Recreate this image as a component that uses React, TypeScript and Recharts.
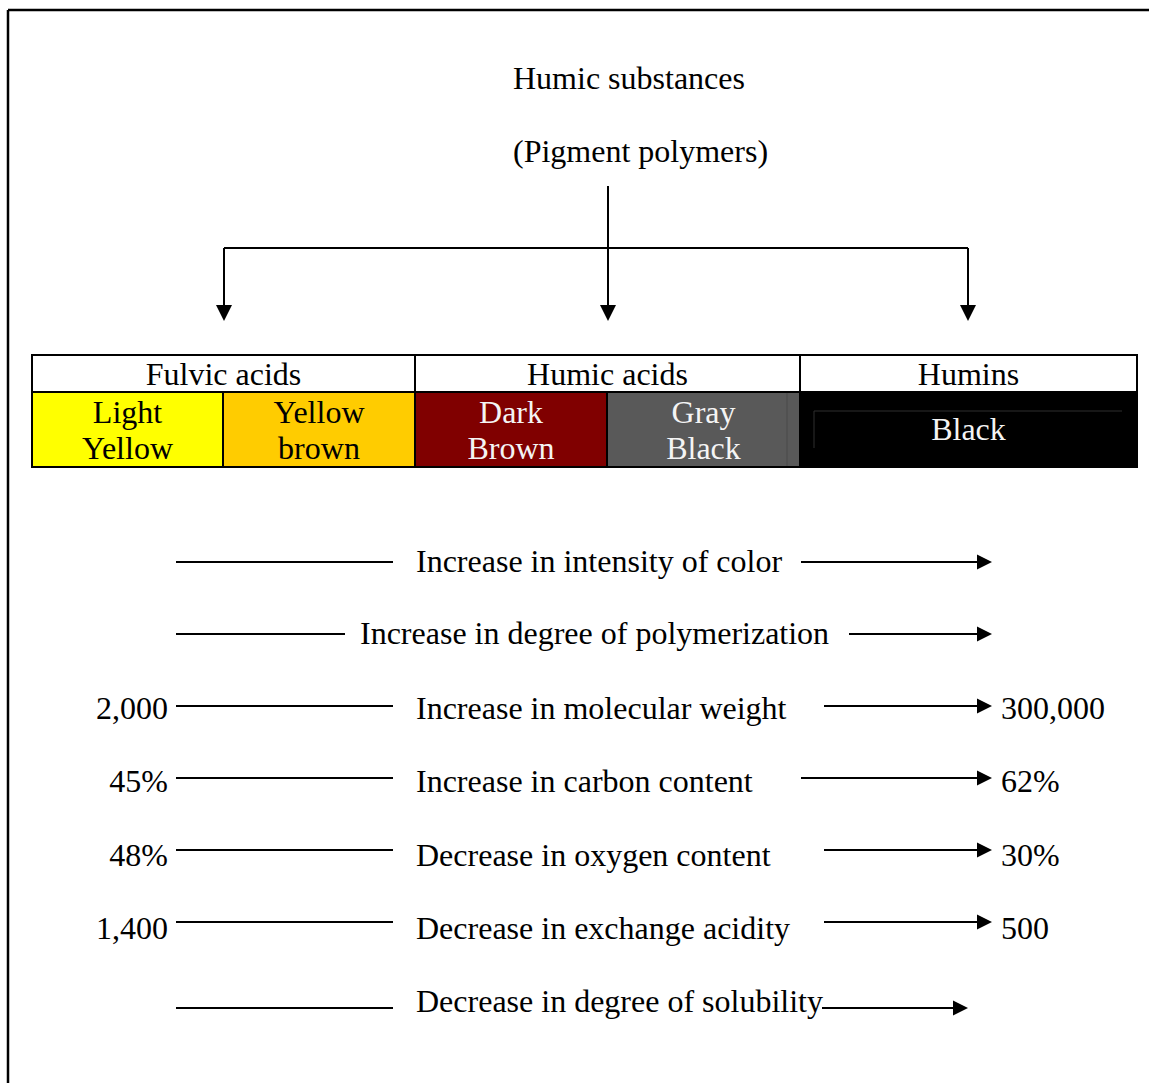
import React from 'react';
import { ComposedChart, XAxis, YAxis, ReferenceLine, ReferenceArea, ReferenceDot, Scatter } from 'recharts';

const W = 1149;
const H = 1083;
const FONT = '"Liberation Serif", "Times New Roman", serif';
const FS = 32;

// --- data ---
const titleLines = ['Humic substances', '(Pigment polymers)'];
const groupNames = ['Fulvic acids', 'Humic acids', 'Humins'];
const colorClasses = ['Light\nYellow', 'Yellow\nbrown', 'Dark\nBrown', 'Gray\nBlack', 'Black'];
const trendLabels = [
  'Increase in intensity of color',
  'Increase in degree of polymerization',
  'Increase in molecular weight',
  'Increase in carbon content',
  'Decrease in oxygen content',
  'Decrease in exchange acidity',
  'Decrease in degree of solubility',
];
const startValues = ['', '', '2,000', '45%', '48%', '1,400', ''];
const endValues = ['', '', '300,000', '62%', '30%', '500', ''];

// --- layout / styles ---
const classEdges = [32, 223, 415, 607, 800, 1137];
const groupEdges = [32, 415, 800, 1137];
const classFills = ['#ffff00', '#ffcc00', '#800000', '#595959', '#000000'];
const classInk = ['#000000', '#000000', '#f4f4f4', '#f4f4f4', '#f4f4f4'];
const headerTop = 355;
const headerBottom = 392;
const classBottom = 467;
const titleX = 513;
const titleBase = [89, 162];
const rowY = [562, 634, 706, 778, 850, 922, 1008];
const rowBase = [572, 644, 719, 792, 866, 939, 1012];
const leftSpan = [[176, 393], [176, 345], [176, 393], [176, 393], [176, 393], [176, 393], [176, 393]];
const labelX = [416, 360, 416, 416, 416, 416, 416];
const arrowSpan = [[801, 992], [849, 992], [824, 992], [801, 992], [824, 992], [824, 992], [822, 968]];
const startX = 168;
const endX = 1001;
const treeTop = 186;
const treeBar = 248;
const treeTip = 321;
const treeX = [224, 608, 968];

const arrowShape = (hl: number, hw: number) => (p: any) => {
  const x1 = Number(p.x1);
  const y1 = Number(p.y1);
  const x2 = Number(p.x2);
  const y2 = Number(p.y2);
  const dx = x2 - x1;
  const dy = y2 - y1;
  const len = Math.hypot(dx, dy) || 1;
  const ux = dx / len;
  const uy = dy / len;
  const bx = x2 - ux * hl;
  const by = y2 - uy * hl;
  return (
    <g>
      <line x1={x1} y1={y1} x2={bx} y2={by} stroke="#000" strokeWidth={2} />
      <polygon
        points={`${x2},${y2} ${bx - uy * hw},${by + ux * hw} ${bx + uy * hw},${by - ux * hw}`}
        fill="#000"
      />
    </g>
  );
};

const textShape = (txt: string, anchor: 'start' | 'middle' | 'end', fill = '#000') => (p: any) => (
  <text x={p.cx} y={p.cy} textAnchor={anchor} fontFamily={FONT} fontSize={FS} fill={fill}>
    {txt}
  </text>
);

const cellShape = (fill: string, label: string, ink: string, baselines: number[]) => (p: any) => {
  const lines = label.split('\n');
  return (
    <g>
      <rect x={p.x} y={p.y} width={p.width} height={p.height} fill={fill} stroke="#000" strokeWidth={2} />
      {lines.map((l, i) => (
        <text
          key={i}
          x={p.x + p.width / 2}
          y={p.y + baselines[i]}
          textAnchor="middle"
          fontFamily={FONT}
          fontSize={FS}
          fill={ink}
        >
          {l}
        </text>
      ))}
    </g>
  );
};

const line = (x1: number, y1: number, x2: number, y2: number, key: string, w = 2, color = '#000') => (
  <ReferenceLine
    key={key}
    segment={[{ x: x1, y: y1 }, { x: x2, y: y2 }]}
    stroke={color}
    strokeWidth={w}
    ifOverflow="visible"
  />
);

const LabelMark = (p: any) => (
  <text x={p.cx} y={p.cy} textAnchor="start" fontFamily={FONT} fontSize={FS} fill="#000">
    {p.payload.label}
  </text>
);

export default function App() {
  const rows = trendLabels.map((label, i) => ({
    label,
    start: startValues[i],
    end: endValues[i],
    x: labelX[i],
    y: rowBase[i],
  }));

  return (
    <div style={{ position: 'absolute', left: 0, top: 0, width: W, height: H, background: '#fff' }}>
      <ComposedChart width={W} height={H} data={rows} margin={{ top: 0, right: 0, bottom: 0, left: 0 }}>
        <XAxis type="number" dataKey="x" domain={[0, W]} hide allowDataOverflow />
        <YAxis type="number" dataKey="y" domain={[0, H]} reversed hide allowDataOverflow />

        {/* page frame */}
        {line(8, 10, W, 10, 'frame-top', 2.5)}
        {line(8, 10, 8, H, 'frame-left', 2.5)}

        {/* title */}
        {titleLines.map((t, i) => (
          <ReferenceDot
            key={`title-${i}`}
            x={titleX}
            y={titleBase[i]}
            ifOverflow="visible"
            shape={textShape(t, 'start')}
          />
        ))}

        {/* branching arrows */}
        <ReferenceLine
          segment={[{ x: treeX[1], y: treeTop }, { x: treeX[1], y: treeTip }]}
          ifOverflow="visible"
          shape={arrowShape(16, 8)}
        />
        {line(treeX[0], treeBar, treeX[2], treeBar, 'tree-bar')}
        <ReferenceLine
          segment={[{ x: treeX[0], y: treeBar }, { x: treeX[0], y: treeTip }]}
          ifOverflow="visible"
          shape={arrowShape(16, 8)}
        />
        <ReferenceLine
          segment={[{ x: treeX[2], y: treeBar }, { x: treeX[2], y: treeTip }]}
          ifOverflow="visible"
          shape={arrowShape(16, 8)}
        />

        {/* colour classes */}
        {colorClasses.map((c, i) => (
          <ReferenceArea
            key={`class-${i}`}
            x1={classEdges[i]}
            x2={classEdges[i + 1]}
            y1={headerBottom}
            y2={classBottom}
            ifOverflow="visible"
            shape={cellShape(classFills[i], c, classInk[i], c.includes('\n') ? [31, 67] : [48])}
          />
        ))}
        {line(787, headerBottom + 1, 787, classBottom - 1, 'gray-edge', 1, '#4a4a4a')}
        {line(814, 411, 1122, 411, 'black-inner-top', 1, '#2e2e2e')}
        {line(814, 411, 814, 448, 'black-inner-left', 1, '#2e2e2e')}

        {/* fraction headers */}
        {groupNames.map((g, i) => (
          <ReferenceArea
            key={`group-${i}`}
            x1={groupEdges[i]}
            x2={groupEdges[i + 1]}
            y1={headerTop}
            y2={headerBottom}
            ifOverflow="visible"
            shape={cellShape('#ffffff', g, '#000000', [30])}
          />
        ))}

        {/* property trends */}
        {rows.map((r, i) => line(leftSpan[i][0], rowY[i], leftSpan[i][1], rowY[i], `left-${i}`))}
        {rows.map((r, i) => (
          <ReferenceLine
            key={`arrow-${i}`}
            segment={[{ x: arrowSpan[i][0], y: rowY[i] }, { x: arrowSpan[i][1], y: rowY[i] }]}
            ifOverflow="visible"
            shape={arrowShape(15, 7.5)}
          />
        ))}
        <Scatter dataKey="y" shape={LabelMark} isAnimationActive={false} />
        {rows.map((r, i) =>
          r.start ? (
            <ReferenceDot
              key={`start-${i}`}
              x={startX}
              y={rowBase[i]}
              ifOverflow="visible"
              shape={textShape(r.start, 'end')}
            />
          ) : null
        )}
        {rows.map((r, i) =>
          r.end ? (
            <ReferenceDot
              key={`end-${i}`}
              x={endX}
              y={rowBase[i]}
              ifOverflow="visible"
              shape={textShape(r.end, 'start')}
            />
          ) : null
        )}
      </ComposedChart>
    </div>
  );
}
